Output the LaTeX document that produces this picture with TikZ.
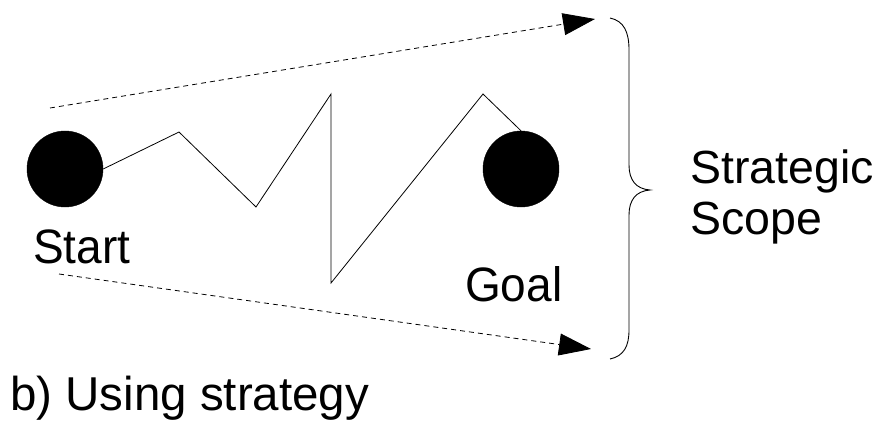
\documentclass[tikz,border=0pt]{standalone}
\usepackage{fontspec}
\setmainfont{Liberation Sans}
\usetikzlibrary{arrows.meta}
\begin{document}
\begin{tikzpicture}[x=1pt,y=-1pt,
  dot/.style={circle,fill=black,draw=black,minimum size=76pt,inner sep=0pt},
  lbl/.style={anchor=base west,inner sep=0pt,font=\fontsize{46}{50}\selectfont},
  path/.style={line width=0.8pt},
  scopearrow/.style={line width=0.8pt,dash pattern=on 5pt off 4pt,-{Triangle[length=32pt,width=22pt]}},
  bracestyle/.style={line width=0.9pt}]
\useasboundingbox (0,0) rectangle (883,425);
\node[dot] (start) at (65,169) {};
\node[dot] (goal) at (521,169) {};
\coordinate (z1) at (179,132);
\coordinate (z2) at (256,207);
\coordinate (z3) at (331,94);
\coordinate (z4) at (331,283);
\coordinate (z5) at (483,94);
\draw[path] (start.east) -- (z1) -- (z2) -- (z3) -- (z4) -- (z5) -- (goal.north);
\coordinate (t0) at (50,108);
\coordinate (t1) at (595,19);
\coordinate (b0) at (59,274);
\coordinate (b1) at (591,349);
\draw[scopearrow] (t0) -- (t1);
\draw[scopearrow] (b0) -- (b1);
\coordinate (brtop) at (610,18);
\coordinate (brtip) at (650,190);
\coordinate (brbot) at (610,359);
\draw[bracestyle] (brtop) .. controls (624,21) and (629,32) .. (629,50) -- (629,165)
  .. controls (629,180) and (636,189) .. (brtip)
  .. controls (636,191) and (629,200) .. (629,215) -- (629,330)
  .. controls (629,346) and (624,356) .. (brbot);
\node[lbl,yscale=1.05] (slabel) at (33,263) {Start};
\node[lbl,yscale=1.05] (glabel) at (465,301) {Goal};
\node[lbl,font=\fontsize{46.5}{50}\selectfont] (scope1) at (690,183) {Strategic};
\node[lbl,font=\fontsize{46.5}{50}\selectfont] (scope2) at (690,234) {Scope};
\node[lbl,font=\fontsize{47.5}{52}\selectfont] (caption) at (10,410) {b) Using strategy};
\end{tikzpicture}
\end{document}
